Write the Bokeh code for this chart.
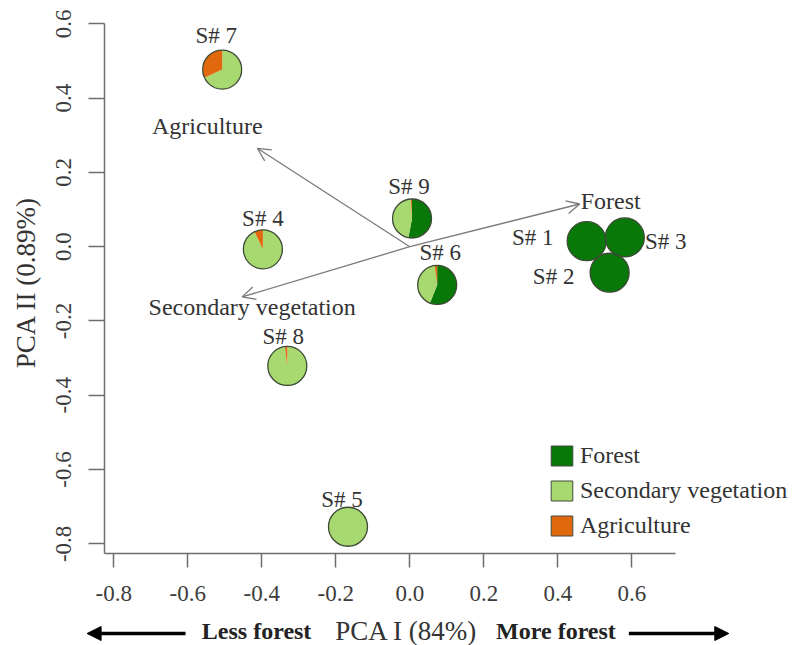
import numpy as np
from bokeh.plotting import figure
from bokeh.models import (Range1d, FixedTicker, Arrow, OpenHead, NormalHead, Label,
                          Legend, LegendItem, ColumnDataSource)
from bokeh.core.properties import value
from bokeh.embed import file_html
from bokeh.resources import INLINE

# --- sampling sites: PCA scores -------------------------------------------
sites = ["S# 1", "S# 2", "S# 3", "S# 4", "S# 5", "S# 6", "S# 7", "S# 8", "S# 9"]
pc1 = [0.478, 0.540, 0.581, -0.397, -0.167, 0.074, -0.507, -0.331, 0.006]
pc2 = [0.015, -0.070, 0.025, -0.007, -0.754, -0.103, 0.477, -0.321, 0.076]

# --- land cover composition around each site (%) --------------------------
forest = [100, 100, 100, 0, 0, 56, 0, 0, 53]
secondary = [0, 0, 0, 93, 100, 42, 68, 98, 46]
agriculture = [0, 0, 0, 7, 0, 2, 32, 2, 1]

# --- variable loadings (biplot arrows) -------------------------------------
loading_names = ["Forest", "Agriculture", "Secondary vegetation"]
loading_pc1 = [0.459, -0.412, -0.453]
loading_pc2 = [0.115, 0.265, -0.135]

# --- axis ticks ------------------------------------------------------------
tick_values = [-0.8, -0.6, -0.4, -0.2, 0.0, 0.2, 0.4, 0.6]
tick_labels = ["-0.8", "-0.6", "-0.4", "-0.2", "0.0", "0.2", "0.4", "0.6"]

classes = ["Forest", "Secondary vegetation", "Agriculture"]
class_colors = ["#087808", "#a8d870", "#e2680e"]

SERIF = "Liberation Serif"
TEXT = "#333333"
AXIS = "#6e6e6e"

W, H = 796, 645
# plotting box (L-shaped frame in R style) and the pixel margins around it
BOX_X = (-0.825, 0.718)
BOX_Y = (-0.826, 0.601)
LEFT, RIGHT, TOP, BOTTOM = 104, 121, 23, 92
ux = (BOX_X[1] - BOX_X[0]) / (W - LEFT - RIGHT)   # data units per pixel
uy = (BOX_Y[1] - BOX_Y[0]) / (H - TOP - BOTTOM)

# the canvas-wide frame keeps margin texts and arrows visible
x_range = Range1d(BOX_X[0] - LEFT * ux, BOX_X[1] + RIGHT * ux)
y_range = Range1d(BOX_Y[0] - BOTTOM * uy, BOX_Y[1] + TOP * uy)

p = figure(width=W, height=H, output_backend="svg", toolbar_location=None,
           x_range=x_range, y_range=y_range,
           min_border_left=0, min_border_right=0,
           min_border_top=0, min_border_bottom=0)
p.outline_line_color = None
p.xgrid.visible = False
p.ygrid.visible = False
p.background_fill_color = "white"
p.border_fill_color = "white"

p.xaxis.fixed_location = BOX_Y[0]
p.xaxis.bounds = BOX_X
p.yaxis.fixed_location = BOX_X[0]
p.yaxis.bounds = BOX_Y

for ax in (p.xaxis[0], p.yaxis[0]):
    ax.ticker = FixedTicker(ticks=tick_values)
    ax.major_label_overrides = dict(zip(tick_values, tick_labels))
    ax.axis_line_color = AXIS
    ax.axis_line_width = 1.5
    ax.major_tick_line_color = AXIS
    ax.major_tick_line_width = 1.5
    ax.major_tick_in = 0
    ax.minor_tick_line_color = None
    ax.major_label_text_font = SERIF
    ax.major_label_text_font_size = "23px"
    ax.major_label_text_color = "#3c3c3c"

p.xaxis.major_tick_out = 14
p.xaxis.major_label_standoff = 18
p.yaxis.major_tick_out = 16
p.yaxis.major_label_standoff = 17
p.yaxis.major_label_orientation = "vertical"

# axis titles drawn as labels in the margins
p.add_layout(Label(x=BOX_X[0] - 79 * ux, y=(BOX_Y[0] + BOX_Y[1]) / 2 + 6 * uy,
                   text="PCA II (0.89%)", angle=np.pi / 2, text_font=SERIF,
                   text_font_size="27px", text_color=TEXT, text_align="center",
                   text_baseline="middle"))

# --- loading arrows --------------------------------------------------------
for lx, ly in zip(loading_pc1, loading_pc2):
    p.add_layout(Arrow(x_start=0, y_start=0, x_end=lx, y_end=ly,
                       line_color="#7a7a7a", line_width=1.3,
                       end=OpenHead(size=13, line_color="#7a7a7a", line_width=1.3)))

# label anchors relative to the arrow tips (pixels)
arrow_label_dx = [1, -50, 10]
arrow_label_dy = [3, 22, -10]
arrow_label_align = ["left", "center", "center"]
for name, lx, ly, dx, dy, al in zip(loading_names, loading_pc1, loading_pc2,
                                    arrow_label_dx, arrow_label_dy, arrow_label_align):
    p.text(x=[lx + dx * ux], y=[ly + dy * uy], text=[name], text_font=value(SERIF),
           text_font_size="24px", text_color=TEXT, text_align=al,
           text_baseline="middle")

# --- pie charts at the site scores ----------------------------------------
cover = [forest, secondary, agriculture]
cum = np.zeros(len(sites))
x_arr = np.array(pc1)
y_arr = np.array(pc2)
legend_items = []
for name, vals, col in zip(classes, cover, class_colors):
    frac = np.array(vals, dtype=float) / 100.0
    keep = frac > 0
    end = np.pi / 2 - 2 * np.pi * cum
    start = np.pi / 2 - 2 * np.pi * (cum + frac)
    full = frac >= 0.9999
    start[full] = end[full] - 2 * np.pi + 1e-3
    src = ColumnDataSource(dict(x=x_arr[keep], y=y_arr[keep],
                                start=start[keep], end=end[keep]))
    p.wedge(x="x", y="y", radius=19.5, radius_units="screen",
            start_angle="start", end_angle="end", direction="anticlock",
            fill_color=col, line_color=None, source=src)
    cum += frac
    swatch = p.quad(left=[np.nan], right=[np.nan], bottom=[np.nan], top=[np.nan],
                    fill_color=col, line_color="#3f4a3a", line_width=1)
    legend_items.append(LegendItem(label=name, renderers=[swatch]))

p.scatter(x=pc1, y=pc2, size=39, marker="circle", fill_color=None,
          line_color="#3d4a36", line_width=1.3)

# site labels (pixel offsets from the pie centres)
site_label_dx = [-54, -56, 41, 0, -6, 3, -6, -4, -3]
site_label_dy = [4, -4, -4, 31, 27, 32, 34, 29, 32]
lab_x = [x + dx * ux for x, dx in zip(pc1, site_label_dx)]
lab_y = [y + dy * uy for y, dy in zip(pc2, site_label_dy)]
p.text(x=lab_x, y=lab_y, text=sites, text_font=value(SERIF),
       text_font_size="23px", text_color=TEXT, text_align="center",
       text_baseline="middle")

# --- legend ----------------------------------------------------------------
legend = Legend(items=legend_items, location=(548, 106), padding=0, margin=0,
                spacing=8, glyph_width=27, glyph_height=25, label_standoff=5,
                label_text_font=SERIF, label_text_font_size="24px",
                label_text_color=TEXT, border_line_color=None,
                background_fill_alpha=0)
p.add_layout(legend)

# --- x axis title with direction hints -------------------------------------
y_title = BOX_Y[0] - 77 * uy
p.add_layout(Label(x=-0.009, y=y_title, text="PCA I (84%)", text_font=SERIF,
                   text_font_size="27px", text_color=TEXT, text_align="center",
                   text_baseline="middle"))
p.add_layout(Label(x=-0.414, y=y_title, text="Less forest", text_font=SERIF,
                   text_font_size="24px", text_font_style="bold", text_color="#222222",
                   text_align="center", text_baseline="middle"))
p.add_layout(Label(x=0.395, y=y_title, text="More forest", text_font=SERIF,
                   text_font_size="24px", text_font_style="bold", text_color="#222222",
                   text_align="center", text_baseline="middle"))
y_arrow = BOX_Y[0] - 80 * uy
p.add_layout(Arrow(x_start=-0.606, y_start=y_arrow, x_end=-0.872, y_end=y_arrow,
                   line_color="black", line_width=3.5,
                   end=NormalHead(size=14, fill_color="black", line_color="black")))
p.add_layout(Arrow(x_start=0.592, y_start=y_arrow, x_end=0.862, y_end=y_arrow,
                   line_color="black", line_width=3.5,
                   end=NormalHead(size=14, fill_color="black", line_color="black")))

open("out.html", "w").write(file_html(p, INLINE))
